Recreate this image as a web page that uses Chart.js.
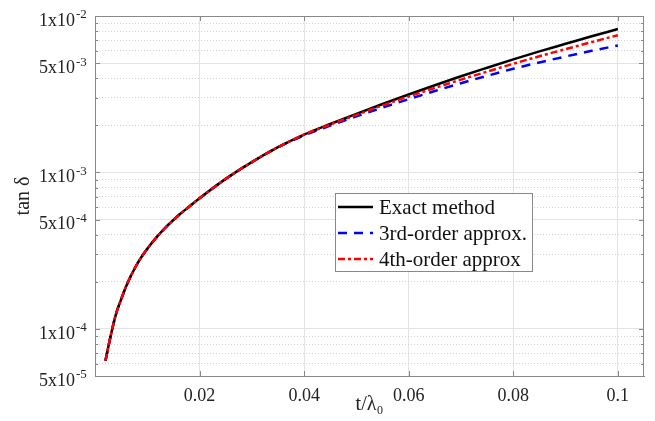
<!DOCTYPE html>
<html>
<head>
<meta charset="utf-8">
<script src="https://cdn.jsdelivr.net/npm/chart.js@4.4.1/dist/chart.umd.min.js"></script>
<style>
html,body{margin:0;padding:0;background:#fff;}
#wrap{width:655px;height:421px;position:relative;}
</style>
</head>
<body>
<div id="wrap"><canvas id="c" width="655" height="421"></canvas></div>
<script>
// ---- data ----
const tValues = [0.002,0.003,0.004,0.005,0.006,0.008,0.010,0.012,0.014,0.016,0.018,0.020,0.025,0.030,0.035,0.040,0.045,0.050,0.055,0.060,0.065,0.070,0.075,0.080,0.085,0.090,0.095,0.100];
const exactValues = [6.26e-5,9.03e-5,1.24e-4,1.545e-4,1.89e-4,2.58e-4,3.25e-4,3.93e-4,4.62e-4,5.33e-4,6.04e-4,6.84e-4,9.1e-4,1.165e-3,1.45e-3,1.746e-3,2.04e-3,2.37e-3,2.74e-3,3.15e-3,3.61e-3,4.12e-3,4.67e-3,5.28e-3,5.94e-3,6.64e-3,7.42e-3,8.25e-3];
const thirdOrderValues = [6.26e-5,9.03e-5,1.24e-4,1.545e-4,1.89e-4,2.58e-4,3.25e-4,3.93e-4,4.62e-4,5.33e-4,6.04e-4,6.84e-4,9.1e-4,1.164e-3,1.447e-3,1.726e-3,1.993e-3,2.283e-3,2.598e-3,2.94e-3,3.315e-3,3.72e-3,4.145e-3,4.60e-3,5.05e-3,5.51e-3,5.99e-3,6.48e-3];
const fourthOrderValues = [6.26e-5,9.03e-5,1.24e-4,1.545e-4,1.89e-4,2.58e-4,3.25e-4,3.93e-4,4.62e-4,5.33e-4,6.04e-4,6.84e-4,9.1e-4,1.165e-3,1.45e-3,1.746e-3,2.025e-3,2.335e-3,2.68e-3,3.06e-3,3.47e-3,3.92e-3,4.41e-3,4.95e-3,5.53e-3,6.14e-3,6.81e-3,7.54e-3];
const seriesLabels = ['Exact method','3rd-order approx.','4th-order approx'];
const xTicks = [0.02,0.04,0.06,0.08,0.1];
const xTickLabels = ['0.02','0.04','0.06','0.08','0.1'];
const yMajorTicks = [5e-5,1e-4,5e-4,1e-3,5e-3,1e-2];
const yTickBases = ['5x10','1x10','5x10','1x10','5x10','1x10'];
const yTickExponents = ['-5','-4','-4','-3','-3','-2'];

// ---- chart ----
const FONT = "'Liberation Serif','Times New Roman',serif";
const Y_PAD = 20;
const yAllTicks = [];
for (let e = -5; e <= -3; e++) for (let m = 1; m <= 9; m++) { const v = m * Math.pow(10, e); if (v >= 4.99e-5) yAllTicks.push(+v.toPrecision(3)); }
yAllTicks.push(1e-2);
const majorIndex = v => yMajorTicks.findIndex(t => Math.abs(t - v) / t < 1e-6);
const isMajorY = v => majorIndex(v) >= 0;
const pts = vals => tValues.map((t, i) => ({x: t, y: vals[i]}));

const boxPlugin = {
  id: 'box',
  afterDatasetsDraw(chart) {
    const {ctx, chartArea: a, scales: {x, y}} = chart;
    ctx.save();
    ctx.strokeStyle = '#888';
    ctx.lineWidth = 1;
    ctx.beginPath();
    ctx.moveTo(a.left, a.top + 0.5); ctx.lineTo(a.right, a.top + 0.5);
    ctx.moveTo(a.right - 0.5, a.top); ctx.lineTo(a.right - 0.5, a.bottom);
    y.ticks.forEach(t => {
      const py = Math.round(y.getPixelForValue(t.value)) + 0.5;
      const L = isMajorY(t.value) ? 5 : 3;
      ctx.moveTo(a.left, py); ctx.lineTo(a.left + L, py);
      ctx.moveTo(a.right, py); ctx.lineTo(a.right - L, py);
    });
    x.ticks.forEach(t => {
      const px = Math.round(x.getPixelForValue(t.value)) + 0.5;
      ctx.moveTo(px, a.bottom); ctx.lineTo(px, a.bottom - 5);
      ctx.moveTo(px, a.top); ctx.lineTo(px, a.top + 5);
    });
    ctx.stroke();
    ctx.restore();
  },
  afterDraw(chart) {
    const {ctx, chartArea: a, scales: {y}} = chart;
    ctx.save();
    // exponents of the y tick labels
    ctx.fillStyle = '#222';
    ctx.font = '13px ' + FONT;
    ctx.textAlign = 'left';
    ctx.textBaseline = 'middle';
    yMajorTicks.forEach((v, i) => {
      const py = y.getPixelForValue(v);
      ctx.fillText(yTickExponents[i], y.right - Y_PAD + 1, py - 1);
    });
    // legend box
    const bx = a.left + 240, by = a.top + 177, bw = 197, bh = 78;
    ctx.fillStyle = '#fff';
    ctx.fillRect(bx, by, bw, bh);
    ctx.strokeStyle = '#888';
    ctx.lineWidth = 1;
    ctx.strokeRect(bx + 0.5, by + 0.5, bw, bh);
    [0, 1, 2].forEach((di, r) => {
      const ds = chart.data.datasets[di];
      const ry = by + 14 + r * 26;
      ctx.beginPath();
      ctx.setLineDash(ds.borderDash || []);
      ctx.strokeStyle = ds.borderColor;
      ctx.lineWidth = ds.borderWidth;
      ctx.moveTo(bx + 3, ry); ctx.lineTo(bx + 38, ry);
      ctx.stroke();
      ctx.setLineDash([]);
      ctx.fillStyle = '#111';
      ctx.font = '21px ' + FONT;
      ctx.textBaseline = 'middle';
      ctx.fillText(ds.label, bx + 44, ry + 1);
    });
    ctx.restore();
  }
};

new Chart(document.getElementById('c'), {
  type: 'line',
  data: {
    datasets: [
      {label: seriesLabels[0], data: pts(exactValues), borderColor: '#000000', borderWidth: 2.5, borderDash: [], order: 1},
      {label: seriesLabels[1], data: pts(thirdOrderValues), borderColor: '#0000ff', borderWidth: 2.5, borderDash: [9, 7], order: 2},
      {label: seriesLabels[2], data: pts(fourthOrderValues), borderColor: '#ff0000', borderWidth: 2.5, borderDash: [7, 3, 3, 3], order: 0}
    ]
  },
  options: {
    responsive: false,
    animation: false,
    events: [],
    layout: {padding: {top: 16, right: 11, left: 0, bottom: 0}},
    elements: {point: {radius: 0}, line: {cubicInterpolationMode: 'monotone', fill: false}},
    plugins: {legend: {display: false}, tooltip: {enabled: false}},
    scales: {
      x: {
        type: 'linear', min: 0, max: 0.105,
        afterBuildTicks: s => { s.ticks = xTicks.map(v => ({value: v})); },
        afterFit: s => { s.height = 45; s.paddingLeft = 0; s.paddingRight = 0; },
        ticks: {
          autoSkip: false, maxRotation: 0, padding: 9, color: '#222',
          font: {family: FONT, size: 18},
          callback: v => { const i = xTicks.findIndex(t => Math.abs(t - v) < 1e-9); return i >= 0 ? xTickLabels[i] : ''; }
        },
        grid: {color: '#e3e3e3', lineWidth: 1, drawTicks: false},
        border: {display: true, color: '#888', width: 1},
        title: {display: true, text: 't/\u03BB\u2080', color: '#222', font: {family: FONT, size: 20}, padding: {top: 0, bottom: 4}}
      },
      y: {
        type: 'logarithmic', min: 5e-5, max: 1e-2,
        afterBuildTicks: s => { s.ticks = yAllTicks.map(v => ({value: v})); },
        afterFit: s => { s.width = 95; s.paddingTop = 0; s.paddingBottom = 0; },
        ticks: {
          autoSkip: false, padding: Y_PAD, color: '#222', labelOffset: 5,
          font: {family: FONT, size: 18},
          callback: v => { const i = majorIndex(v); return i >= 0 ? yTickBases[i] : ''; }
        },
        grid: {
          drawTicks: false,
          color: c => (c.tick && isMajorY(c.tick.value)) ? '#e3e3e3' : '#d4d4d4',
          lineWidth: 1
        },
        border: {
          display: true, color: '#888', width: 1,
          dash: c => (c.type === 'tick' && c.tick && !isMajorY(c.tick.value)) ? [1, 2] : []
        },
        title: {display: true, text: 'tan \u03B4', color: '#222', font: {family: FONT, size: 20}, padding: {top: 12, bottom: 0}}
      }
    }
  },
  plugins: [boxPlugin]
});
</script>
</body>
</html>
